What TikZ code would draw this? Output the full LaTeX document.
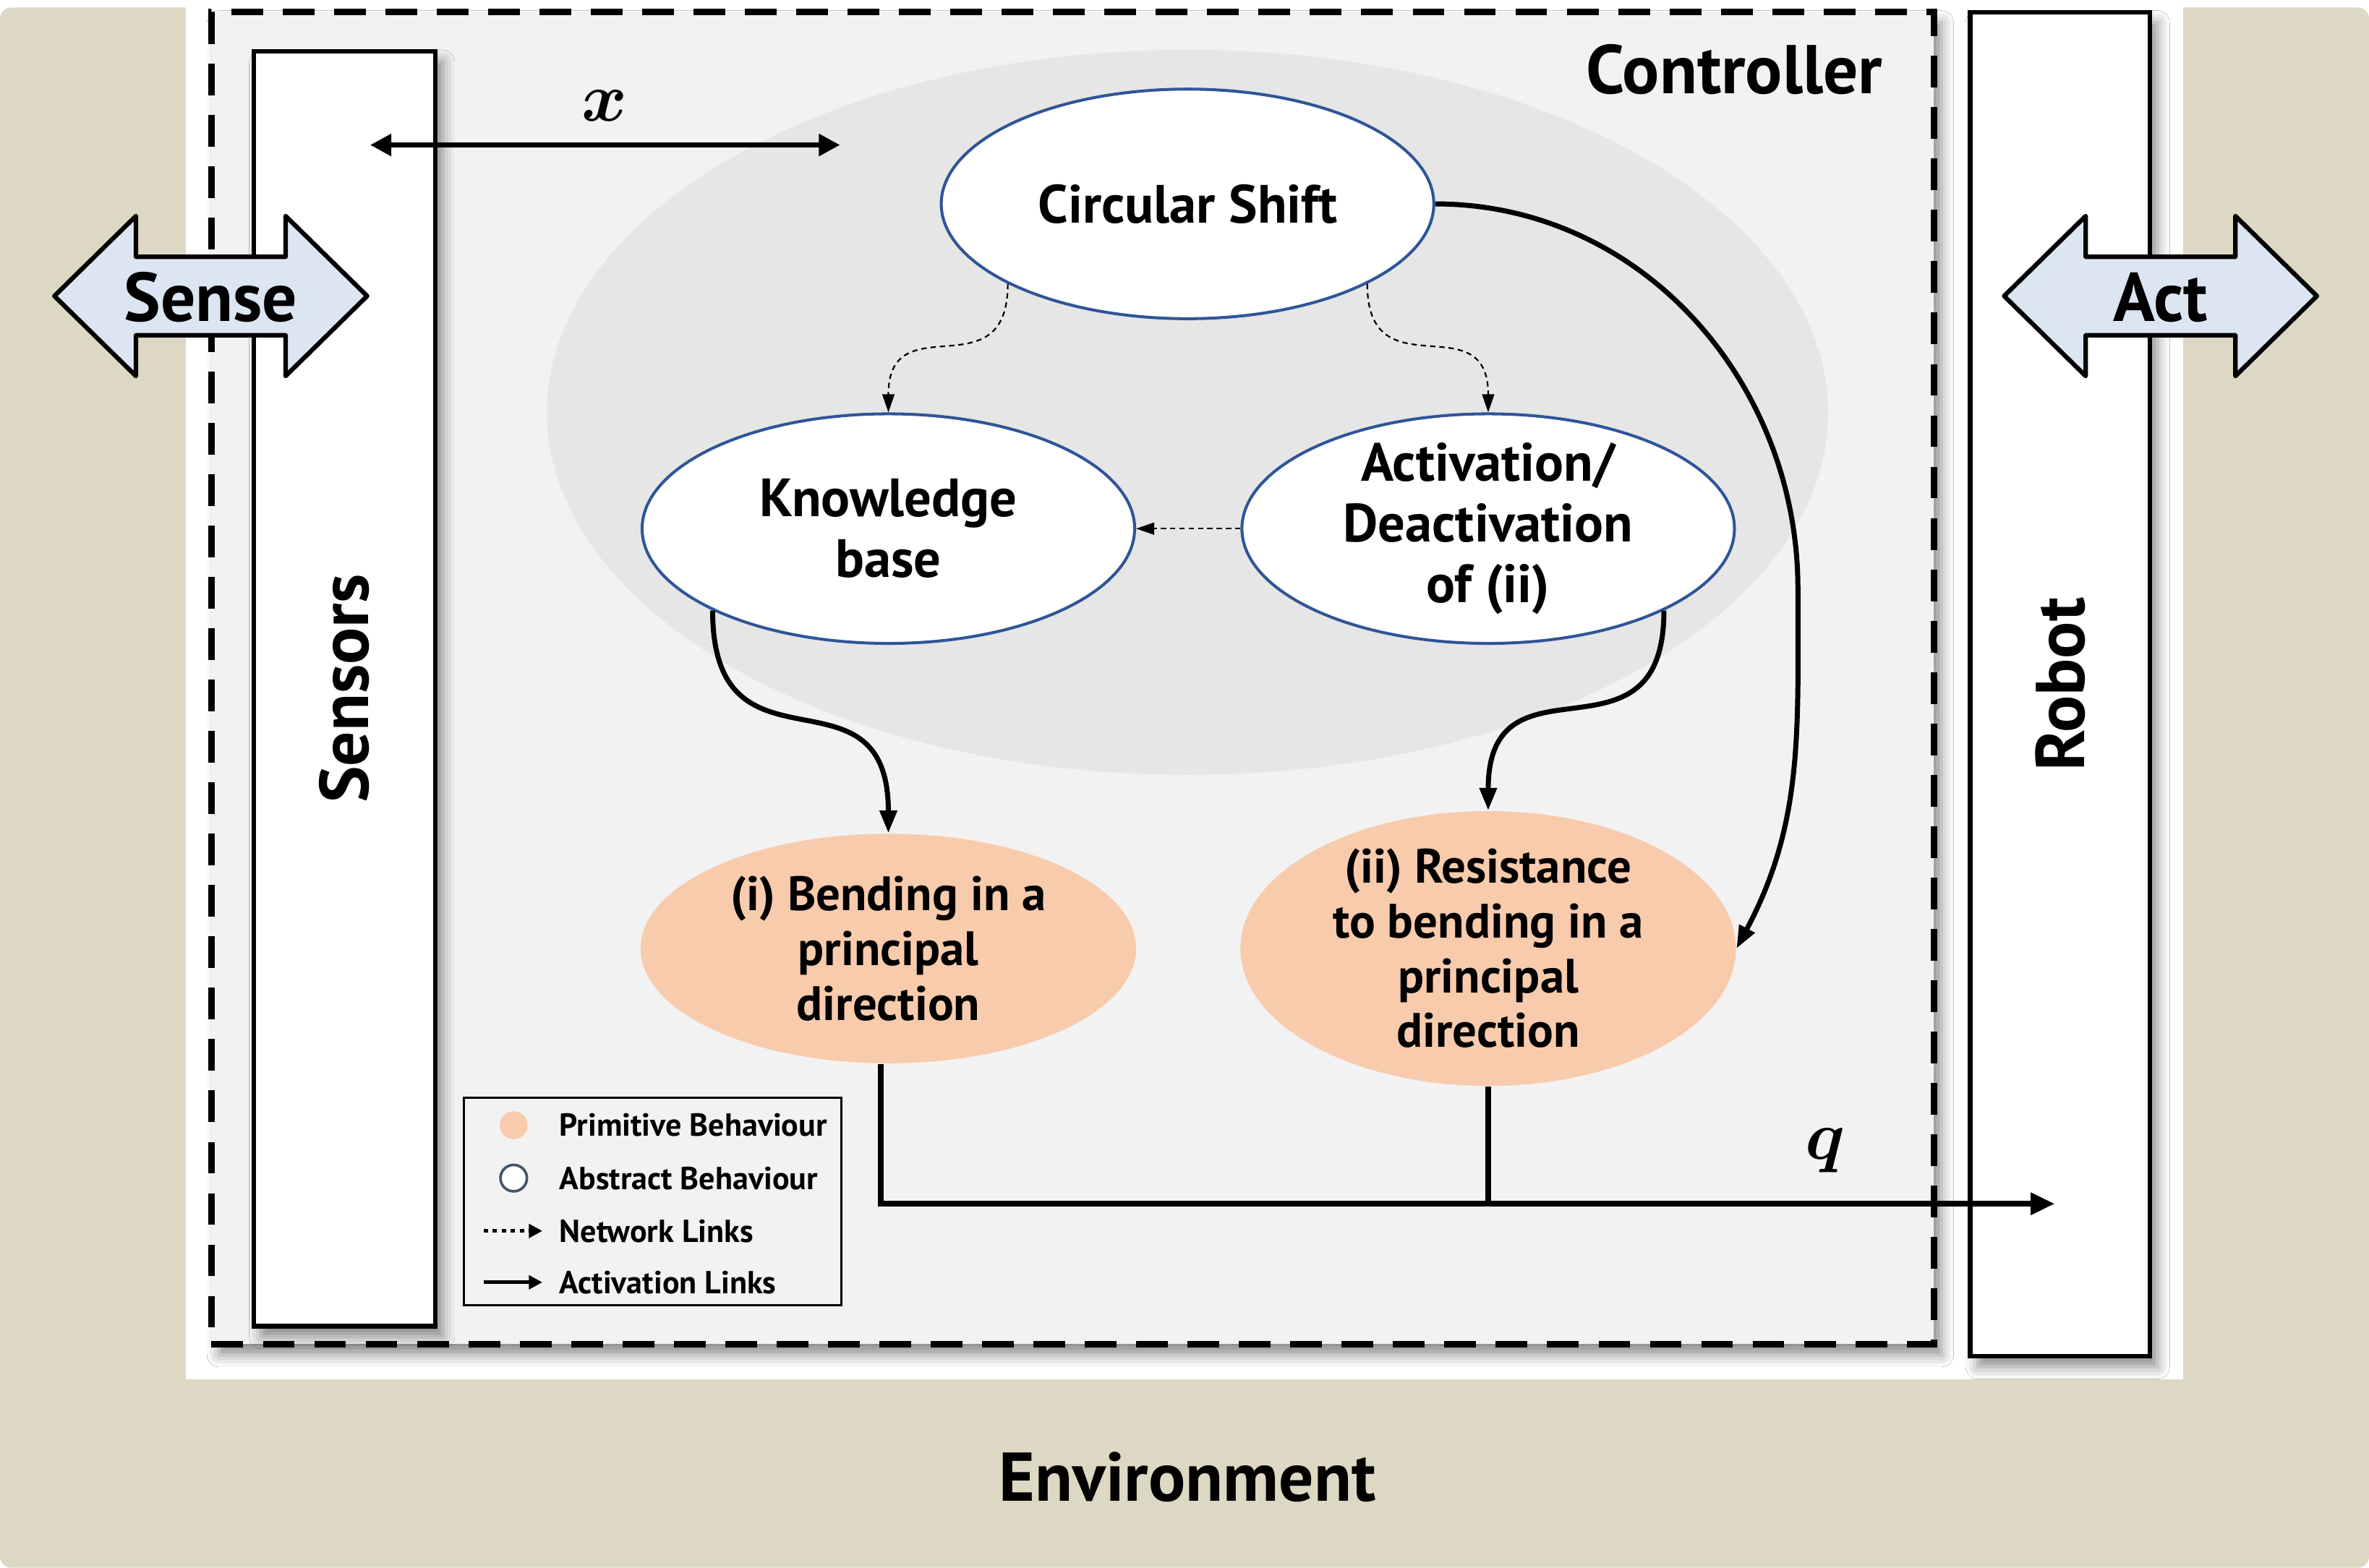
\RequirePackage{fix-cm}
\documentclass[tikz,border=0pt]{standalone}
\usepackage{fontspec}
\setmainfont{PT Sans}
\usepackage{bm}
\usetikzlibrary{shapes,arrows.meta,shadows.blur}

\definecolor{envbeige}{HTML}{DDD8C3}
\definecolor{ctrlgray}{HTML}{F2F2F2}
\definecolor{ellgray}{HTML}{E6E6E6}
\definecolor{ellblue}{HTML}{2F5597}
\definecolor{peach}{HTML}{F8CBAD}
\definecolor{arrowblue}{HTML}{DCE6F2}
\definecolor{legslate}{HTML}{44546A}

\begin{document}
\begin{tikzpicture}[x=0.2mm, y=0.2mm,
  block/.style={draw, line width=1.7pt, fill=white, inner sep=0pt,
    blur shadow={shadow xshift=1mm, shadow yshift=-1.4mm, shadow blur radius=1.6mm, shadow opacity=45}},
  ctrlbox/.style={draw, fill=ctrlgray, line width=2.6pt, dash pattern=on 4.2mm off 2.6mm,
    minimum width=228mm, minimum height=176.4mm, inner sep=0pt,
    blur shadow={shadow xshift=1mm, shadow yshift=-1.4mm, shadow blur radius=1.6mm, shadow opacity=45}},
  iobox/.style={draw, fill=arrowblue, line width=1.7pt, line join=round},
  abstract/.style={ellipse, draw=ellblue, line width=1.1pt, fill=white,
    minimum width=65.2mm, minimum height=30.4mm, inner sep=0pt},
  primitive/.style={ellipse, fill=peach, minimum width=65.6mm, minimum height=30.4mm, inner sep=0pt},
  btext/.style={align=center, font=\fontsize{20.3}{22.8}\selectfont\bfseries},
  ptext/.style={align=center, font=\fontsize{18.2}{20.6}\selectfont\bfseries},
  bigtext/.style={font=\fontsize{26}{30}\selectfont\bfseries},
  mathlabel/.style={inner sep=0pt, font=\fontsize{26}{30}\selectfont},
  netlink/.style={-{Triangle[length=2.4mm,width=1.6mm]}, line width=0.6pt, dash pattern=on 2pt off 1.5pt},
  actlink/.style={-{Triangle[length=3mm,width=2.2mm]}, line width=1.9pt},
  outlink/.style={line width=2.3pt},
  legbox/.style={draw, line width=0.8pt, fill=ctrlgray, minimum width=50mm, minimum height=27.4mm, inner sep=0pt},
  legtext/.style={anchor=west, inner sep=0pt, font=\fontsize{12}{13}\selectfont\bfseries},
  legnet/.style={-{Triangle[length=1.8mm,width=1.8mm]}, line width=1.4pt, dash pattern=on 1.7pt off 1.7pt},
  legact/.style={-{Triangle[length=1.8mm,width=1.8mm]}, line width=1.4pt},
]
\useasboundingbox (0,0) rectangle (1568,-1038);

% environment
\fill[white] (0,0) rectangle (1568,-1038);
\fill[envbeige, rounded corners=1.5mm] (0,-5) rectangle (1568,-1038);
\fill[white] (123,0) rectangle (1445,-913);
\node[bigtext] (env) at (786,-978) {Environment};

% controller
\node[ctrlbox] (ctrl) at (710,-449) {};
\fill[ellgray] (786,-273) ellipse [x radius=424, y radius=240];
\node[bigtext] (ctrltitle) at (1148,-46) {Controller};

% sensors and robot
\node[block, minimum width=24mm, minimum height=168.8mm,
  label={[bigtext,rotate=90]center:Sensors}] (sensors) at (228,-456) {};
\node[block, minimum width=23.8mm, minimum height=178mm,
  label={[bigtext,rotate=90]center:Robot}] (robot) at (1363.5,-453) {};

% x
\coordinate (xleft) at (245,-96);
\coordinate (xright) at (556,-96);
\draw[{Triangle[length=2.8mm,width=2.8mm]}-{Triangle[length=2.8mm,width=2.8mm]}, line width=2pt] (xleft) -- (xright);
\node[mathlabel] (xlab) at (400,-70) {$\bm{x}$};

% sense / act
\foreach \cx/\word/\nm in {139.5/Sense/sense, 1430/Act/actuate}{
  \draw[iobox] (\cx-103.5,-196) -- ++(54,53) -- ++(0,-27) -- ++(99,0) -- ++(0,27)
    -- ++(54,-53) -- ++(-54,-53) -- ++(0,27) -- ++(-99,0) -- ++(0,-27) -- cycle;
  \node[bigtext] (\nm) at (\cx,-197) {\word};
}

% behaviours
\node[abstract, label={[btext]center:Circular Shift}] (shift) at (786,-135) {};
\node[abstract, label={[btext]center:Knowledge\\base}] (know) at (588,-350) {};
\node[abstract, label={[btext]center:Activation/\\Deactivation\\of (ii)}] (toggle) at (985,-350) {};
\node[primitive, label={[ptext]center:(i) Bending in a\\principal\\direction}] (bend) at (588,-628) {};
\node[primitive, minimum height=36.4mm,
  label={[ptext]center:(ii) Resistance\\to bending in a\\principal\\direction}] (resist) at (985,-628) {};

% links
\draw[netlink] (shift.204) to[out=-90,in=90,looseness=1.6] (know.north);
\draw[netlink] (shift.-24) to[out=-90,in=90,looseness=1.6] (toggle.north);
\draw[netlink] (toggle.west) -- (know.east);
\draw[actlink] (know.205) to[out=-90,in=90,looseness=1.6] (bend.north);
\draw[actlink] (toggle.-25) to[out=-90,in=90,looseness=1.6] (resist.north);
\coordinate (swing) at (1190,-390);
\draw[actlink] (shift.east) to[out=0,in=90] (swing) to[out=-90,in=62] (resist.east);

% output q
\coordinate (robotin) at (1360,-797);
\draw[outlink, -{Triangle[length=3.2mm,width=2.8mm]}] ([xshift=-1mm]bend.south) |- (robotin);
\draw[outlink] (resist.south) -- (resist.south |- robotin);
\node[mathlabel] (qlab) at (1208,-762) {$\bm{q}$};

% legend
\node[legbox] (legend) at (432,-795.5) {};
\node[circle, fill=peach, minimum size=3.7mm, inner sep=0pt] (legprim) at (340,-745) {};
\node[circle, draw=legslate, line width=1pt, fill=white, minimum size=3.5mm, inner sep=0pt] (legabs) at (340,-780) {};
\coordinate (legnetA) at (320,-815);
\coordinate (legnetB) at (359,-815);
\draw[legnet] (legnetA) -- (legnetB);
\coordinate (legactA) at (320,-849);
\coordinate (legactB) at (359,-849);
\draw[legact] (legactA) -- (legactB);
\foreach \yy/\txt in {745/Primitive Behaviour, 780/Abstract Behaviour, 815/Network Links, 849/Activation Links}
  \node[legtext] (leg\yy) at (370,-\yy) {\txt};

\end{tikzpicture}
\end{document}
